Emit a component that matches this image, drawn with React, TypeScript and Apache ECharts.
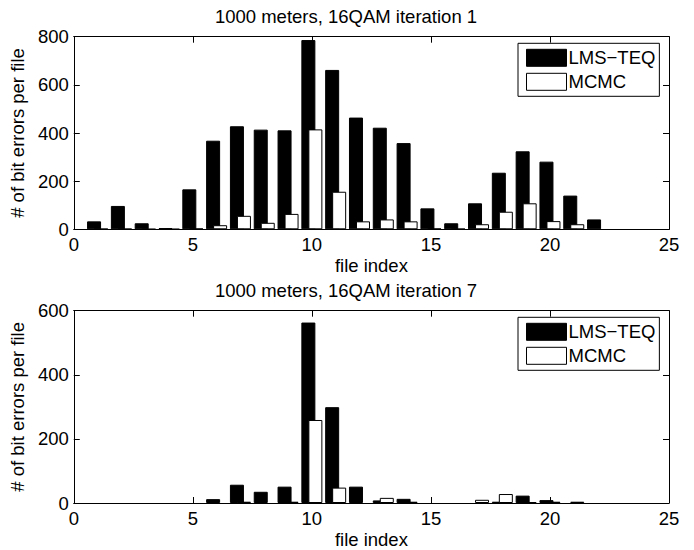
import React, { useEffect, useRef } from "react";
import * as echarts from "echarts";

const fileIndex = [1, 2, 3, 4, 5, 6, 7, 8, 9, 10, 11, 12, 13, 14, 15, 16, 17, 18, 19, 20, 21, 22];

const lmsIter1 = [33, 97, 25, 5, 166, 368, 428, 414, 411, 786, 662, 464, 422, 358, 87, 25, 108, 235, 324, 281, 140, 41];
const mcmcIter1 = [2, 2, 1, 1, 3, 17, 56, 27, 64, 415, 156, 33, 41, 33, 3, 2, 21, 73, 108, 34, 21, 0];

const lmsIter7 = [0, 0, 0, 0, 0, 12, 57, 35, 51, 563, 299, 51, 8, 13, 0, 0, 0, 4, 23, 9, 0, 0];
const mcmcIter7 = [0, 0, 0, 0, 0, 0, 4, 0, 4, 259, 48, 0, 16, 4, 0, 0, 10, 28, 3, 4, 4, 0];

const titles = ["1000 meters, 16QAM iteration 1", "1000 meters, 16QAM iteration 7"];
const yMax = [800, 600];
const seriesNames = ["LMS\u2212TEQ", "MCMC"];

const FONT = "Liberation Sans, Arial, Helvetica, sans-serif";
const FS = 18.5;

export default function App() {
  const ref = useRef<HTMLDivElement>(null);

  useEffect(() => {
    if (!ref.current) return;
    const chart = echarts.init(ref.current, undefined, { renderer: "svg" });

    const gridTops = [36.7, 310.7];
    const plotH = 192.6;
    const grids = gridTops.map((t) => ({ left: 72, width: 597, top: t, height: plotH, containLabel: false }));

    const tick = { show: true, inside: true, length: 6, lineStyle: { color: "#000", width: 1 } };
    const line = { show: true, onZero: false, lineStyle: { color: "#000", width: 1 } };
    const labelStyle = { color: "#000", fontSize: FS, fontFamily: FONT };

    const xAxes: any[] = [];
    const yAxes: any[] = [];
    [0, 1].forEach((g) => {
      xAxes.push({
        type: "value", gridIndex: g, min: 0, max: 25, interval: 5, position: "bottom",
        axisLine: line, axisTick: tick, splitLine: { show: false },
        axisLabel: { ...labelStyle, margin: 6 },
        name: "file index", nameLocation: "middle", nameGap: 27,
        nameTextStyle: labelStyle,
      });
      xAxes.push({
        type: "value", gridIndex: g, min: 0, max: 25, interval: 5, position: "top",
        axisLine: line, axisTick: tick, splitLine: { show: false }, axisLabel: { show: false },
      });
      yAxes.push({
        type: "value", gridIndex: g, min: 0, max: yMax[g], interval: 200, position: "left",
        axisLine: line, axisTick: tick, splitLine: { show: false },
        axisLabel: { ...labelStyle, margin: 5 },
        name: "# of bit errors per file", nameLocation: "middle", nameGap: 40,
        nameTextStyle: labelStyle,
      });
      yAxes.push({
        type: "value", gridIndex: g, min: 0, max: yMax[g], interval: 200, position: "right",
        axisLine: line, axisTick: tick, splitLine: { show: false }, axisLabel: { show: false },
      });
    });

    const datasets = [
      [lmsIter1, mcmcIter1],
      [lmsIter7, mcmcIter7],
    ];
    const colors = ["#000000", "#ffffff"];
    const series: any[] = [];
    [0, 1].forEach((g) => {
      datasets[g].forEach((vals, s) => {
        series.push({
          type: "bar",
          name: seriesNames[s],
          xAxisIndex: g * 2,
          yAxisIndex: g * 2,
          barWidth: 14,
          barGap: "-50%",
          itemStyle: { color: colors[s], borderColor: "#000", borderWidth: 1 },
          data: fileIndex.map((x, i) =>
            vals[i] === 0
              ? { value: [x, vals[i]], itemStyle: { borderWidth: 0 } }
              : { value: [x, vals[i]] }
          ),
        });
      });
    });

    const legends = gridTops.map((t) => ({
      orient: "vertical",
      left: 518,
      top: t + 6.6,
      padding: [5, 4, 5, 8],
      itemWidth: 40,
      itemHeight: 17,
      itemGap: 5,
      backgroundColor: "#fff",
      borderColor: "#000",
      borderWidth: 1,
      borderRadius: 0,
      icon: "rect",
      textStyle: { ...labelStyle, padding: [0, 0, 0, -3] },
      selectedMode: false,
      data: seriesNames.map((n, s) => ({
        name: n,
        itemStyle: { color: colors[s], borderColor: "#000", borderWidth: 1 },
      })),
    }));

    chart.setOption({
      animation: false,
      backgroundColor: "#fff",
      title: titles.map((t, i) => ({
        text: t,
        left: 346,
        top: i === 0 ? 7 : 281,
        textAlign: "center",
        padding: 0,
        textStyle: { ...labelStyle, fontWeight: "normal" },
      })),
      grid: grids,
      xAxis: xAxes,
      yAxis: yAxes,
      legend: legends,
      series,
    });

    return () => chart.dispose();
  }, []);

  return <div ref={ref} style={{ width: 694, height: 550, position: "absolute", left: 0, top: 0 }} />;
}
